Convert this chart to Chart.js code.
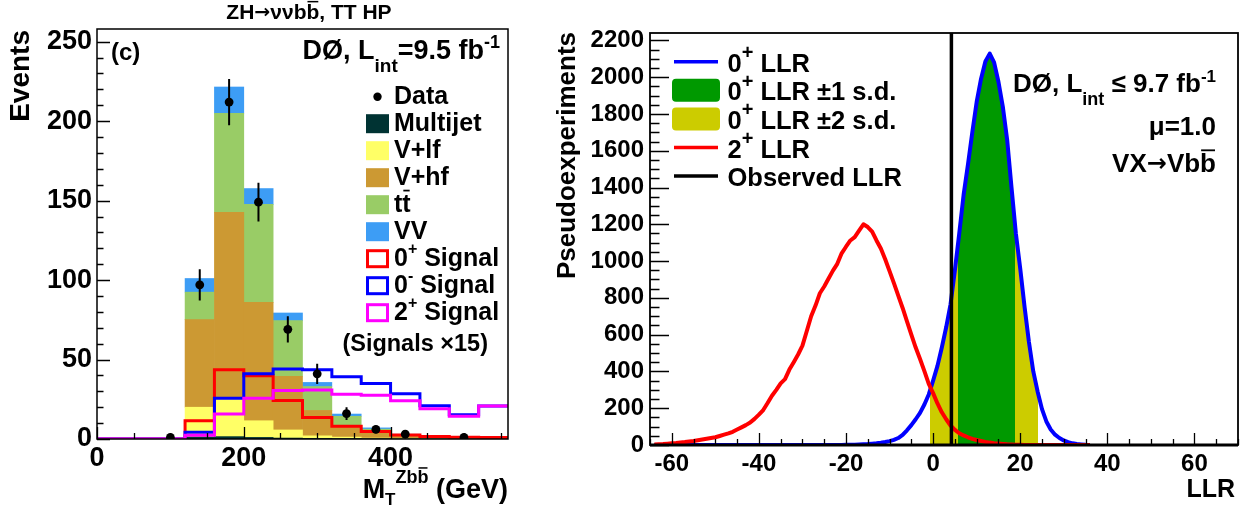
<!DOCTYPE html>
<html>
<head>
<meta charset="utf-8">
<script src="https://cdn.jsdelivr.net/npm/chart.js@4.4.1/dist/chart.umd.min.js"></script>
<style>
  html, body { margin: 0; padding: 0; background: #fff; }
  #wrap { position: relative; width: 1250px; height: 508px; overflow: hidden; }
  canvas { position: absolute; top: 0; }
  #mass { left: 0; }
  #llr { left: 540px; }
</style>
</head>
<body>
<div id="wrap">
  <canvas id="mass" width="540" height="508"></canvas>
  <canvas id="llr" width="710" height="508"></canvas>
</div>
<script>
const FONT = "'Liberation Sans', Arial, Helvetica, sans-serif";
const SYM = "'DejaVu Sans', sans-serif";

// ---- left panel: M_T(Zbb) in the TT HP channel, 40 GeV bins ----
const massBinLow = [0, 40, 80, 120, 160, 200, 240, 280, 320, 360, 400, 440, 480, 520];
const massMax = 560;
const massYMax = 258;
const massTicks = [0, 200, 400];
const massTickLabels = ["0", "200", "400"];
const eventTicks = [0, 50, 100, 150, 200, 250];
const eventTickLabels = ["0", "50", "100", "150", "200", "250"];

// stacked backgrounds, one value per bin centre
const bgCenters = [140, 180, 220, 260, 300, 340, 380, 420, 460, 500, 540];
const multijet = [1.3, 1.5, 1.0, 0.6, 0.4, 0.3, 0.2, 0.1, 0.1, 0.05, 0.05];
const vlf = [18.7, 23.7, 10.5, 5.1, 1.6, 0.9, 0.4, 0.3, 0.2, 0.1, 0.1];
const vhf = [55.1, 117.5, 74.5, 33.8, 16.0, 7.0, 4.0, 1.6, 0.9, 0.5, 0.3];
const ttbar = [17.3, 62.3, 61.6, 35.0, 15.0, 6.1, 1.6, 0.6, 0.3, 0.2, 0.1];
const diboson = [8.6, 16.5, 10.0, 4.8, 2.6, 1.4, 0.8, 0.4, 0.15, 0.1, 0.05];

// data with errors
const dataMass = [100, 140, 180, 220, 260, 300, 340, 380, 420, 500];
const dataEvents = [1, 97, 212, 149, 69, 41, 16, 6, 3, 1];
const dataErr = [1, 9.8, 14.6, 12.2, 8.3, 6.4, 4, 2.4, 1.7, 1];

// signals (x15), one value per bin in massBinLow
const sig0plus = [0, 0, 0, 11.5, 43.6, 39.8, 24.2, 13.6, 8.0, 4.7, 2.5, 1.6, 1.1, 1.0];
const sig0minus = [0, 0, 0, 4.2, 25.6, 41.0, 44.0, 43.6, 39.2, 35.0, 28.5, 21.0, 15.2, 20.8];
const sig2plus = [0, 0, 0, 2.3, 15.7, 25.6, 30.5, 30.8, 28.2, 27.5, 24.0, 19.0, 14.3, 20.8];

// ---- right panel: LLR pseudoexperiments, 1 unit bins ----
const llrBins = [
  -64, -63, -62, -61, -60, -59, -58, -57, -56, -55, -54, -53, -52, -51, -50, -49, -48, -47, -46, -45,
  -44, -43, -42, -41, -40, -39, -38, -37, -36, -35, -34, -33, -32, -31, -30, -29, -28, -27, -26, -25,
  -24, -23, -22, -21, -20, -19, -18, -17, -16, -15, -14, -13, -12, -11, -10, -9, -8, -7, -6, -5,
  -4, -3, -2, -1, 0, 1, 2, 3, 4, 5, 6, 7, 8, 9, 10, 11, 12, 13, 14, 15,
  16, 17, 18, 19, 20, 21, 22, 23, 24, 25, 26, 27, 28, 29, 30, 31, 32, 33, 34, 35, 36
];
const counts2plus = [
  3, 4, 5, 7, 9, 11, 14, 16, 19, 22, 26, 30, 34, 38, 42, 49, 56, 63, 72, 84,
  96, 108, 122, 142, 165, 190, 228, 268, 300, 335, 358, 410, 450, 492, 540, 620, 700, 758, 825, 862,
  905, 948, 985, 1042, 1078, 1112, 1130, 1165, 1200, 1185, 1160, 1112, 1068, 1010, 945, 880, 812, 745, 672, 600,
  530, 468, 402, 332, 282, 226, 178, 140, 106, 82, 64, 52, 42, 33, 27, 22, 17, 13, 10, 8,
  6, 4, 3, 2, 1, 0, 0, 0, 0, 0, 0, 0, 0, 0, 0, 0, 0, 0, 0, 0, 0
];
const counts0plus = [
  0, 0, 0, 0, 0, 0, 0, 0, 0, 0, 0, 0, 0, 0, 0, 0, 0, 0, 0, 0,
  0, 0, 0, 0, 0, 0, 0, 0, 0, 0, 0, 0, 0, 0, 0, 0, 0, 0, 0, 0,
  0, 0, 0, 0, 1, 1, 2, 3, 4, 5, 7, 9, 12, 16, 21, 28, 38, 55, 80, 108,
  140, 175, 220, 275, 350, 430, 530, 640, 765, 950, 1150, 1360, 1525, 1700, 1865, 1990, 2085, 2128, 2080, 1975,
  1840, 1660, 1400, 1150, 960, 750, 560, 400, 290, 195, 128, 84, 56, 38, 25, 16, 9, 5, 3, 1, 0
];
const band1sd = [5.75, 18.7];
const band2sd = [-0.75, 24.1];
const observedLLR = 4.2;
const llrMin = -65, llrMax = 70, llrYMax = 2240;
const llrTicks = [-60, -40, -20, 0, 20, 40, 60];
const llrTickLabels = ["-60", "-40", "-20", "0", "20", "40", "60"];
const pseTicks = [0, 200, 400, 600, 800, 1000, 1200, 1400, 1600, 1800, 2000, 2200];
const pseTickLabels = ["0", "200", "400", "600", "800", "1000", "1200", "1400", "1600", "1800", "2000", "2200"];

// ---- helpers ----
function T(t, s, dy, bar, fam) { return { t, s, dy: dy || 0, bar: !!bar, fam: fam || FONT }; }

function rich(ctx, parts, x, y, align) {
  let w = 0;
  for (const p of parts) { ctx.font = `bold ${p.s}px ${p.fam}`; p.w = ctx.measureText(p.t).width; w += p.w; }
  let cx = align === "right" ? x - w : align === "center" ? x - w / 2 : x;
  ctx.textAlign = "left";
  ctx.textBaseline = "middle";
  ctx.fillStyle = "#000";
  for (const p of parts) {
    ctx.font = `bold ${p.s}px ${p.fam}`;
    const yy = y + p.dy;
    ctx.fillText(p.t, cx, yy);
    if (p.bar) {
      const cw = ctx.measureText(p.t.slice(-1)).width;
      ctx.fillRect(cx + p.w - cw + 1, yy - p.s * 0.6, cw - 2, Math.max(1.5, p.s * 0.07));
    }
    cx += p.w;
  }
}

function vtext(ctx, text, size, x, yTop) {
  ctx.save();
  ctx.translate(x, yTop);
  ctx.rotate(-Math.PI / 2);
  ctx.font = `bold ${size}px ${FONT}`;
  ctx.textAlign = "right";
  ctx.textBaseline = "middle";
  ctx.fillStyle = "#000";
  ctx.fillText(text, 0, 0);
  ctx.restore();
}

// ROOT style frame with inward ticks
function framePlugin(cfg) {
  return {
    id: "frame",
    afterDatasetsDraw(chart) {
      const { ctx, chartArea: a, scales: { x, y } } = chart;
      ctx.save();
      ctx.strokeStyle = "#000";
      ctx.lineWidth = 1.3;
      ctx.beginPath();
      for (let v = x.min; v <= x.max + 1e-6; v += cfg.xMinor) {
        const px = Math.round(x.getPixelForValue(v)) + 0.5;
        const len = cfg.xMajor.includes(Math.round(v)) ? cfg.xMajLen : cfg.xMinLen;
        ctx.moveTo(px, a.bottom);
        ctx.lineTo(px, a.bottom - len);
      }
      for (let v = y.min; v <= y.max + 1e-6; v += cfg.yMinor) {
        const py = Math.round(y.getPixelForValue(v)) + 0.5;
        const len = cfg.yMajor.includes(Math.round(v)) ? cfg.yMajLen : cfg.yMinLen;
        ctx.moveTo(a.left, py);
        ctx.lineTo(a.left + len, py);
      }
      ctx.stroke();
      ctx.lineWidth = cfg.frameWidth;
      ctx.strokeRect(a.left, a.top, a.right - a.left, a.bottom - a.top);
      if (cfg.bottomWidth) {
        ctx.lineWidth = cfg.bottomWidth;
        ctx.beginPath();
        ctx.moveTo(a.left, a.bottom);
        ctx.lineTo(a.right, a.bottom);
        ctx.stroke();
      }
      ctx.restore();
    }
  };
}

function tickFont(size) { return { family: FONT, size, weight: "bold" }; }

// ---- left chart ----
const stepPts = (vals) => massBinLow.map((x, i) => ({ x, y: vals[i] })).concat([{ x: massMax, y: vals[vals.length - 1] }]);
const barPts = (vals) => bgCenters.map((x, i) => ({ x, y: vals[i] }));
const barStyle = { type: "bar", stack: "bg", barPercentage: 1, categoryPercentage: 1, borderWidth: 0 };
const sigStyle = { type: "line", stepped: true, borderWidth: 3, pointRadius: 0, fill: false };

const massAnnot = {
  id: "massAnnot",
  beforeDatasetDraw(chart, args) {
    if (args.index !== 0) return;
    const { ctx, scales: { x, y } } = chart;
    ctx.save();
    ctx.strokeStyle = "#000";
    ctx.lineWidth = 2;
    ctx.beginPath();
    dataMass.forEach((m, i) => {
      const px = x.getPixelForValue(m);
      ctx.moveTo(px, y.getPixelForValue(Math.max(0, dataEvents[i] - dataErr[i])));
      ctx.lineTo(px, y.getPixelForValue(dataEvents[i] + dataErr[i]));
    });
    ctx.stroke();
    ctx.restore();
  },
  afterDraw(chart) {
    const ctx = chart.ctx;
    ctx.save();
    rich(ctx, [T("ZH", 21), T("\u2192", 19, 0, false, SYM), T("\u03bd\u03bdb", 21), T("b", 21, 0, true), T(", TT HP", 21)], 309, 13.5, "center");
    rich(ctx, [T("(c)", 24)], 111, 53, "left");
    rich(ctx, [T("D\u00d8, L", 27), T("int", 19, 15), T("=9.5 fb", 27), T("-1", 18, -9)], 500, 52, "right");
    vtext(ctx, "Events", 28, 21, 30);
    rich(ctx, [T("M", 27), T("T", 17, 9), T("Zb", 18, -13), T("b", 18, -13, true), T(" (GeV)", 27)], 508, 491, "right");

    // legend
    const lx = 366, bw = 23, bh = 19, tx = 394, top = 96.7, step = 27, fs = 25;
    ctx.fillStyle = "#000";
    ctx.beginPath();
    ctx.arc(lx + bw / 2, top, 4.2, 0, Math.PI * 2);
    ctx.fill();
    rich(ctx, [T("Data", fs)], tx, top, "left");
    const filled = [["#003333", [T("Multijet", fs)]], ["#ffff66", [T("V+lf", fs)]], ["#cc9933", [T("V+hf", fs)]],
      ["#99cc66", [T("t", fs), T("t", fs, 0, true)]], ["#3d9df5", [T("VV", fs)]]];
    filled.forEach(([c, parts], i) => {
      const yc = top + step * (i + 1);
      ctx.fillStyle = c;
      ctx.fillRect(lx, yc - bh / 2, bw, bh);
      rich(ctx, parts, tx, yc, "left");
    });
    const outl = [["#ff0000", "0", "+"], ["#0000ff", "0", "-"], ["#ff00ff", "2", "+"]];
    outl.forEach(([c, n, s], i) => {
      const yc = top + step * (i + 6);
      ctx.strokeStyle = c;
      ctx.lineWidth = 3;
      ctx.strokeRect(lx + 1.5, yc - bh / 2 + 1.5, bw - 3, bh - 3);
      rich(ctx, [T(n, fs), T(s, 16, -9), T(" Signal", fs)], tx, yc, "left");
    });
    rich(ctx, [T("(Signals \u00d715)", 23.5)], 488, 345, "right");
    ctx.restore();
  }
};

new Chart(document.getElementById("mass"), {
  type: "bar",
  data: {
    datasets: [
      { type: "scatter", label: "Data", stack: "d", data: dataMass.map((x, i) => ({ x, y: dataEvents[i] })),
        pointRadius: 4.4, pointBackgroundColor: "#000", pointBorderWidth: 0 },
      { ...sigStyle, label: "2+ Signal", stack: "s3", data: stepPts(sig2plus), borderColor: "#ff00ff" },
      { ...sigStyle, label: "0- Signal", stack: "s2", data: stepPts(sig0minus), borderColor: "#0000ff" },
      { ...sigStyle, label: "0+ Signal", stack: "s1", data: stepPts(sig0plus), borderColor: "#ff0000" },
      { ...barStyle, label: "Multijet", data: barPts(multijet), backgroundColor: "#003333" },
      { ...barStyle, label: "V+lf", data: barPts(vlf), backgroundColor: "#ffff66" },
      { ...barStyle, label: "V+hf", data: barPts(vhf), backgroundColor: "#cc9933" },
      { ...barStyle, label: "ttbar", data: barPts(ttbar), backgroundColor: "#99cc66" },
      { ...barStyle, label: "VV", data: barPts(diboson), backgroundColor: "#3d9df5" }
    ]
  },
  options: {
    responsive: false,
    animation: false,
    events: [],
    layout: { padding: { left: 0, right: 32, top: 29, bottom: 0 } },
    plugins: { legend: { display: false }, tooltip: { enabled: false } },
    scales: {
      x: {
        type: "linear", min: 0, max: massMax, stacked: true, offset: false,
        grid: { display: false, drawTicks: false }, border: { display: false },
        afterBuildTicks: (s) => { s.ticks = massTicks.map((v) => ({ value: v })); },
        afterFit: (s) => { s.height = 69; },
        ticks: { font: tickFont(27), color: "#000", padding: 3, autoSkip: false, maxRotation: 0,
          callback: (v, i) => massTickLabels[i] }
      },
      y: {
        type: "linear", min: 0, max: massYMax, stacked: true,
        grid: { display: false, drawTicks: false }, border: { display: false },
        afterBuildTicks: (s) => { s.ticks = eventTicks.map((v) => ({ value: v })); },
        afterFit: (s) => { s.width = 97; },
        ticks: { font: tickFont(27), color: "#000", padding: 5, autoSkip: false,
          callback: (v, i) => eventTickLabels[i] }
      }
    }
  },
  plugins: [massAnnot, framePlugin({ xMinor: 50, xMajor: massTicks, xMajLen: 12, xMinLen: 6,
    yMinor: 10, yMajor: eventTicks, yMajLen: 13, yMinLen: 6.5, frameWidth: 1.5 })]
});

// ---- right chart ----
const histPts = (vals) => llrBins.map((x, i) => ({ x, y: vals[i] }));
const bandFill = (range, color) => (c) => {
  const chart = c.chart;
  const a = chart.chartArea;
  if (!a) return color;
  const sx = chart.scales.x;
  const span = a.right - a.left;
  const t1 = Math.min(1, Math.max(0, (sx.getPixelForValue(range[0]) - a.left) / span));
  const t2 = Math.min(1, Math.max(t1, (sx.getPixelForValue(range[1]) - a.left) / span));
  const g = chart.ctx.createLinearGradient(a.left, 0, a.right, 0);
  g.addColorStop(0, "rgba(0,0,0,0)");
  g.addColorStop(t1, "rgba(0,0,0,0)");
  g.addColorStop(t1, color);
  g.addColorStop(t2, color);
  g.addColorStop(t2, "rgba(0,0,0,0)");
  g.addColorStop(1, "rgba(0,0,0,0)");
  return g;
};
const histStyle = { borderWidth: 4, pointRadius: 0, fill: false, tension: 0, borderJoinStyle: "round" };

const llrAnnot = {
  id: "llrAnnot",
  afterDraw(chart) {
    const ctx = chart.ctx;
    ctx.save();
    vtext(ctx, "Pseudoexperiments", 26, 27.5, 32);
    rich(ctx, [T("LLR", 25)], 695, 490, "right");

    const x0 = 134, x1 = 178, tx = 187.5, top = 61.7, step = 28.6, fs = 25.5;
    const sup = (b, rest) => [T(b, fs), T("+", 20, -11), T(rest, fs)];
    const rows = [
      ["line", "#0000ff", sup("0", " LLR")],
      ["box", "#009900", sup("0", " LLR \u00b11 s.d.")],
      ["box", "#cccc00", sup("0", " LLR \u00b12 s.d.")],
      ["line", "#ff0000", sup("2", " LLR")],
      ["line", "#000000", [T("Observed LLR", fs)]]
    ];
    rows.forEach(([kind, c, parts], i) => {
      const yc = top + step * i;
      if (kind === "line") {
        ctx.strokeStyle = c;
        ctx.lineWidth = 3.5;
        ctx.beginPath();
        ctx.moveTo(x0, yc);
        ctx.lineTo(x1, yc);
        ctx.stroke();
      } else {
        ctx.fillStyle = c;
        ctx.beginPath();
        ctx.roundRect(x0 - 2, yc - 11.5, x1 - x0 + 4, 23, 4);
        ctx.fill();
      }
      rich(ctx, parts, tx, yc + 3, "left");
    });

    rich(ctx, [T("D\u00d8, L", 26), T("int", 18, 15), T(" \u2264 9.7 fb", 26), T("-1", 17, -8)], 676, 85, "right");
    rich(ctx, [T("\u03bc=1.0", 26)], 676, 128, "right");
    rich(ctx, [T("VX", 26), T("\u2192", 24, 0, false, SYM), T("Vb", 26), T("b", 26, 0, true)], 676, 165, "right");
    ctx.restore();
  }
};

new Chart(document.getElementById("llr"), {
  type: "line",
  data: {
    datasets: [
      { label: "Observed LLR", data: [{ x: observedLLR, y: 0 }, { x: observedLLR, y: llrYMax }],
        borderColor: "#000", borderWidth: 3.5, pointRadius: 0, fill: false },
      { ...histStyle, label: "2+ LLR", data: histPts(counts2plus), borderColor: "#ff0000" },
      { ...histStyle, label: "0+ LLR", data: histPts(counts0plus), borderColor: "#0000ff" },
      { ...histStyle, label: "0+ LLR 1 s.d.", data: histPts(counts0plus), borderWidth: 0, fill: "origin",
        backgroundColor: bandFill(band1sd, "#009900") },
      { ...histStyle, label: "0+ LLR 2 s.d.", data: histPts(counts0plus), borderWidth: 0, fill: "origin",
        backgroundColor: bandFill(band2sd, "#cccc00") }
    ]
  },
  options: {
    responsive: false,
    animation: false,
    events: [],
    layout: { padding: { left: 0, right: 12, top: 33, bottom: 0 } },
    plugins: { legend: { display: false }, tooltip: { enabled: false } },
    scales: {
      x: {
        type: "linear", min: llrMin, max: llrMax,
        grid: { display: false, drawTicks: false }, border: { display: false },
        afterBuildTicks: (s) => { s.ticks = llrTicks.map((v) => ({ value: v })); },
        afterFit: (s) => { s.height = 63; },
        ticks: { font: tickFont(24), color: "#000", padding: 5, autoSkip: false, maxRotation: 0,
          callback: (v, i) => llrTickLabels[i] }
      },
      y: {
        type: "linear", min: 0, max: llrYMax,
        grid: { display: false, drawTicks: false }, border: { display: false },
        afterBuildTicks: (s) => { s.ticks = pseTicks.map((v) => ({ value: v })); },
        afterFit: (s) => { s.width = 110; },
        ticks: { font: tickFont(24), color: "#000", padding: 6, autoSkip: false,
          callback: (v, i) => pseTickLabels[i] }
      }
    }
  },
  plugins: [llrAnnot, framePlugin({ xMinor: 5, xMajor: llrTicks, xMajLen: 12, xMinLen: 6,
    yMinor: 50, yMajor: pseTicks, yMajLen: 19, yMinLen: 9.5, frameWidth: 1.8, bottomWidth: 3 })]
});
</script>
</body>
</html>
